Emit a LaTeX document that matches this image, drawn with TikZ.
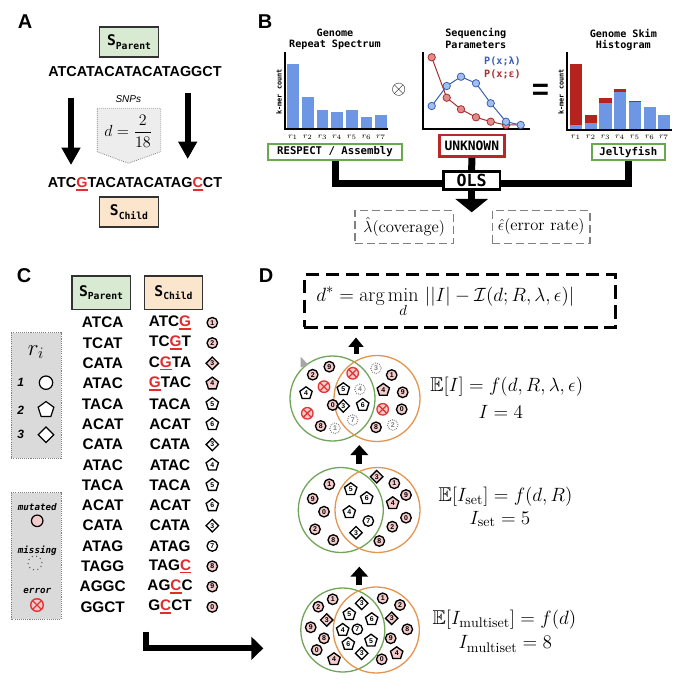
\documentclass[tikz,border=0pt]{standalone}
\usepackage{amsmath,amssymb}
\usepackage{fontspec}
\usetikzlibrary{arrows.meta,shapes.geometric,calc}
\newfontfamily\sansf{Liberation Sans}
\newfontfamily\monof{DejaVu Sans Mono}
\newdimen\px \px=0.75pt
\definecolor{boxgreen}{RGB}{217,234,211}
\definecolor{boxpeach}{RGB}{252,229,205}
\definecolor{bord}{RGB}{50,50,50}
\definecolor{barblue}{RGB}{109,150,228}
\definecolor{barred}{RGB}{180,35,30}
\definecolor{lineblue}{RGB}{60,95,180}
\definecolor{linered}{RGB}{170,45,45}
\definecolor{ptblue}{RGB}{160,190,240}
\definecolor{ptred}{RGB}{225,140,140}
\definecolor{okgreen}{RGB}{106,168,79}
\definecolor{unkred}{RGB}{185,40,40}
\definecolor{mutred}{RGB}{225,45,45}
\definecolor{pinkfill}{RGB}{244,204,204}
\definecolor{leggray}{RGB}{218,218,218}
\definecolor{venngreen}{RGB}{112,165,90}
\definecolor{vennorange}{RGB}{228,150,80}
\definecolor{errred}{RGB}{225,55,55}
\newcommand\mut[1]{\textcolor{mutred}{\setbox0\hbox{#1}\rlap{\rule[-2.4pt]{\wd0}{1.2pt}}\box0}}
\newcommand\Slab[1]{{\monof\bfseries\fontsize{11}{11}\selectfont S\raisebox{-2.6pt}{\fontsize{7.3}{7.3}\selectfont #1}}}
\newcommand\tokfont{\sansf\bfseries\fontsize{5.2}{5.5}\selectfont}
\newcommand\tok[4]{\node[#2] (#1) at (#3) {#4};}
\newcommand\crow[6]{%
  \node[cseq] (cp#1) at (102.7,#2) {#3};
  \node[cseq] (cc#1) at (170,#2) {#4};
  \node[#5] (cs#1) at (212.3,#2) {#6};}
\begin{document}
\begin{tikzpicture}[x=0.75pt,y=-0.75pt,
  lbl/.style={font=\sansf\bfseries\fontsize{15}{15}\selectfont, inner sep=0pt},
  sbox/.style={draw=bord, line width=1.3\px, minimum width=59\px, minimum height=30\px, inner sep=0pt},
  seqA/.style={font=\sansf\bfseries\fontsize{10.8}{12}\selectfont, inner sep=0pt},
  cseq/.style={font=\sansf\bfseries\fontsize{11.5}{12}\selectfont, inner sep=0pt},
  ttl/.style={font=\monof\bfseries\fontsize{7.6}{8}\selectfont, inner sep=0pt},
  tick/.style={font=\fontsize{6}{6}\selectfont, inner sep=0pt},
  kmer/.style={font=\monof\bfseries\fontsize{5.2}{6}\selectfont, rotate=90, inner sep=0pt},
  gbox/.style={draw=okgreen, line width=2\px, fill=white, minimum height=16\px, inner sep=0pt, font=\monof\bfseries\fontsize{8}{8}\selectfont},
  conn/.style={line width=7\px, line join=miter},
  bigdown/.style={line width=6\px, -{Triangle[width=13.5pt,length=13pt]}},
  uparrow/.style={line width=5\px, -{Triangle[width=13pt,length=7.5pt]}},
  dbox/.style={draw=gray, dash pattern=on 6pt off 3pt, line width=1.2\px, font=\fontsize{12.5}{15}\selectfont, inner sep=0pt},
  mth/.style={font=\fontsize{15}{17}\selectfont, inner sep=0pt, anchor=west},
  legbox/.style={fill=leggray, draw=gray, dash pattern=on 0.8pt off 0.8pt, line width=0.75pt},
  tk/.style={draw=black, line width=1pt, inner sep=0pt, font=\tokfont},
  tc/.style={tk, circle, minimum size=10.5\px},
  tp/.style={tk, regular polygon, regular polygon sides=5, minimum size=13\px},
  td/.style={tk, diamond, minimum size=13\px},
  mu/.style={fill=pinkfill},
  wh/.style={fill=white},
  tm/.style={circle, draw=gray, dash pattern=on 0.6pt off 0.9pt, line width=0.8pt, minimum size=10.5\px, inner sep=0pt, font=\tokfont, text=gray, fill=white},
  te/.style={circle, draw=errred, line width=1pt, fill=pinkfill, minimum size=11.5\px, inner sep=0pt,
     path picture={\draw[errred, line width=1pt] (path picture bounding box.north west) -- (path picture bounding box.south east) (path picture bounding box.north east) -- (path picture bounding box.south west);}},
]
\useasboundingbox (0,0) rectangle (679,680);
\fill[white] (0,0) rectangle (679,680);

% ================= Panel A =================
\node[lbl] (labA) at (25,22) {A};
\node[sbox, fill=boxgreen] (spA) at (129,42) {\Slab{Parent}};
\node[seqA] (seqP) at (135,72) {ATCATACATACATAGGCT};
\node[font=\sansf\itshape\fontsize{7.5}{8}\selectfont, inner sep=0pt] (snp) at (128.3,99) {SNPs};
\draw[draw=gray, fill=black!7, dash pattern=on 0.6pt off 0.9pt, line width=0.6pt]
  (97.3,108.3) -- (160.7,108.3) -- (160.7,151.7) -- (128.3,163.3) -- (97.3,151.7) -- cycle;
\node[font=\fontsize{12}{14}\selectfont, inner sep=0pt] (dA) at (128.3,131.7) {$d=\dfrac{2}{18}$};
\coordinate (aLs) at (71,98); \coordinate (aLe) at (71,165);
\coordinate (aRs) at (187.7,93); \coordinate (aRe) at (187.7,159);
\draw[bigdown] (aLs) -- (aLe);
\draw[bigdown] (aRs) -- (aRe);
\node[seqA] (seqC) at (135,184) {ATC\mut{G}TACATACATAG\mut{C}CT};
\node[sbox, fill=boxpeach] (scA) at (129,212) {\Slab{Child}};

% ================= Panel B =================
\node[lbl] (labB) at (265,22) {B};
\node[ttl] (t1a) at (335,33.3) {Genome};
\node[ttl] (t1b) at (335,45) {Repeat Spectrum};
\node[ttl] (t2a) at (475.8,33.3) {Sequencing};
\node[ttl] (t2b) at (475.8,45) {Parameters};
\node[ttl] (t3a) at (623.3,33.3) {Genome Skim};
\node[ttl] (t3b) at (623.3,45) {Histogram};

% chart 1
\foreach \a/\b/\t in {287.3/299/64, 301.7/313.7/96.7, 316.7/328.3/110, 331/343/112.3, 346/357.7/109.7, 360.7/372.3/116.7, 375.3/387/114.7}
  \fill[barblue] (\a,\t) rectangle (\b,129.3);
\draw[line width=2\px] (285,51.7) -- (285,129.3) -- (388.3,129.3);
\foreach \x [count=\i] in {293,307.7,322.5,337,351.8,366.5,381}
  \node[tick] (ra\i) at (\x,137.5) {$r_{\i}$};
\node[kmer] (k1) at (279,92) {k-mer count};

\node[font=\fontsize{14.5}{14.5}\selectfont, inner sep=0pt] (ot) at (398.8,90) {$\otimes$};

% chart 2
\draw[line width=2\px] (423.3,51.7) -- (423.3,129.3) -- (530,129.3);
\draw[linered, line width=1\px] plot coordinates {(431.7,57.3) (446.7,97.7) (461,109.3) (476,117.3) (490.7,121.7) (506,125) (520.7,125)};
\draw[lineblue, line width=1\px] plot coordinates {(431.7,106) (446.7,86) (461,76.7) (476,83.3) (490.7,103.3) (506,121.7) (520.7,125)};
\foreach \x/\y in {431.7/57.3, 446.7/97.7, 461/109.3, 476/117.3, 490.7/121.7, 506/125}
  \filldraw[fill=ptred, draw=linered, line width=0.8\px] (\x,\y) circle[radius=3.7];
\foreach \x/\y in {431.7/106, 446.7/86, 461/76.7, 476/83.3, 490.7/103.3, 506/121.7, 520.7/125}
  \filldraw[fill=ptblue, draw=lineblue, line width=0.8\px] (\x,\y) circle[radius=3.7];
\node[font=\monof\bfseries\fontsize{7.6}{8}\selectfont, text=lineblue, inner sep=0pt] (pl) at (502.5,61.7) {P(x;λ)};
\node[font=\monof\bfseries\fontsize{7.6}{8}\selectfont, text=linered, inner sep=0pt] (pe) at (502.5,74) {P(x;ε)};

\node[font=\sansf\bfseries\fontsize{22}{22}\selectfont, inner sep=0pt] (eq) at (540.5,92) {=};

% chart 3
\foreach \a/\b/\bt/\rt in {570/581.7/125/64, 585/596.7/122.7/115, 599.3/611.7/103.3/98.3, 614/626.3/92.3/89.3, 628.7/641/102/101, 643.7/655.7/107.3/107.3, 658.3/670/115/115}
  {\fill[barred] (\a,\rt) rectangle (\b,\bt);
   \fill[barblue] (\a,\bt) rectangle (\b,130);}
\draw[line width=2\px] (566.7,51.7) -- (566.7,130) -- (671.7,130);
\foreach \x [count=\i] in {575.8,590.8,605.5,620,634.8,649.7,664}
  \node[tick] (rb\i) at (\x,137.5) {$r_{\i}$};
\node[kmer] (k3) at (561,92) {k-mer count};

% boxes and OLS
\node[gbox, minimum width=134.6\px] (resp) at (335,152) {RESPECT / Assembly};
\node[draw=unkred, line width=2.5\px, fill=white, minimum width=65\px, minimum height=21.7\px, inner sep=0pt, font=\monof\bfseries\fontsize{9.7}{10}\selectfont] (unk) at (471.8,145.8) {UNKNOWN};
\node[gbox, minimum width=73.3\px] (jelly) at (628.3,152) {Jellyfish};
\node[draw=black, line width=2.5\px, fill=white, minimum width=56.7\px, minimum height=17.6\px, inner sep=0pt, font=\monof\bfseries\fontsize{12.5}{13}\selectfont] (ols) at (471.7,180.5) {OLS};
\coordinate (olsL) at ($(ols.west)+(0,3.5)$);
\coordinate (olsR) at ($(ols.east)+(0,3.5)$);
\draw[conn] (resp.south) |- (olsL);
\draw[conn] (jelly.south) |- (olsR);
\draw[conn] (unk.south) -- (ols.north);
\coordinate (olsOut) at (471.7,212.3);
\draw[line width=7\px, -{Triangle[width=24pt,length=10pt]}] (ols.south) -- (olsOut);
\node[dbox, minimum width=98.3\px, minimum height=32.6\px] (lam) at (404.2,227) {$\hat\lambda(\text{coverage})$};
\node[dbox, minimum width=97.7\px, minimum height=32.6\px] (eps) at (541.2,227) {$\hat\epsilon(\text{error rate})$};

% ================= Panel C =================
\node[lbl] (labC) at (24,276) {C};
\node[sbox, fill=boxgreen, minimum width=58.3\px, minimum height=33.3\px] (spC) at (101,292.7) {\Slab{Parent}};
\node[sbox, fill=boxpeach, minimum width=58.3\px, minimum height=33.3\px] (scC) at (173.5,292.7) {\Slab{Child}};
\crow{0}{322.7}{ATCA}{ATC\mut{G}}{tc,mu}{1}
\crow{1}{343.0}{TCAT}{TC\mut{G}T}{tc,mu}{2}
\crow{2}{363.3}{CATA}{C\mut{G}TA}{td,mu}{3}
\crow{3}{383.6}{ATAC}{\mut{G}TAC}{tp,mu}{4}
\crow{4}{403.9}{TACA}{TACA}{tp,wh}{5}
\crow{5}{424.2}{ACAT}{ACAT}{tp,wh}{6}
\crow{6}{444.5}{CATA}{CATA}{td,wh}{3}
\crow{7}{464.8}{ATAC}{ATAC}{tp,wh}{4}
\crow{8}{485.1}{TACA}{TACA}{tp,wh}{5}
\crow{9}{505.4}{ACAT}{ACAT}{tp,wh}{6}
\crow{10}{525.7}{CATA}{CATA}{td,wh}{3}
\crow{11}{546.0}{ATAG}{ATAG}{tc,wh}{7}
\crow{12}{566.3}{TAGG}{TAG\mut{C}}{tc,mu}{8}
\crow{13}{586.6}{AGGC}{AG\mut{C}C}{tc,mu}{9}
\crow{14}{606.9}{GGCT}{G\mut{C}CT}{tc,mu}{0}

% legends
\draw[legbox] (11,332.7) rectangle (61,458.3);
\node[font=\fontsize{17}{18}\selectfont, inner sep=0pt] (ri) at (36,352) {$r_i$};
\node[font=\sansf\bfseries\itshape\fontsize{9}{9}\selectfont, inner sep=0pt] (l1) at (20.7,382.7) {1};
\node[font=\sansf\bfseries\itshape\fontsize{9}{9}\selectfont, inner sep=0pt] (l2) at (20.7,410) {2};
\node[font=\sansf\bfseries\itshape\fontsize{9}{9}\selectfont, inner sep=0pt] (l3) at (20.7,434.5) {3};
\node[circle, draw, fill=white, line width=1.2\px, minimum size=13.4\px, inner sep=0pt] (s1) at (46,382.7) {};
\node[regular polygon, regular polygon sides=5, draw, fill=white, line width=1.2\px, minimum size=16.5\px, inner sep=0pt] (s2) at (46,409.8) {};
\node[diamond, draw, fill=white, line width=1.2\px, minimum size=16\px, inner sep=0pt] (s3) at (46,434.8) {};

\draw[legbox] (11,492.7) rectangle (61,619.3);
\node[font=\monof\bfseries\itshape\fontsize{6.9}{7}\selectfont, inner sep=0pt] (lm) at (37.3,506.7) {mutated};
\node[circle, draw, fill=pinkfill, line width=1.2\px, minimum size=11.5\px, inner sep=0pt] (smu) at (37.2,520.8) {};
\node[font=\monof\bfseries\itshape\fontsize{6.9}{7}\selectfont, inner sep=0pt] (lmi) at (37.3,550.7) {missing};
\node[circle, draw=black!70, dash pattern=on 0.7pt off 2.6pt, line width=0.8pt, minimum size=14\px, inner sep=0pt] (smi) at (35,563) {};
\node[font=\monof\bfseries\itshape\fontsize{6.9}{7}\selectfont, inner sep=0pt] (le) at (37.3,590.7) {error};
\node[te, minimum size=12.6\px, line width=1.1pt] (ser) at (37,605) {};

\coordinate (cArS) at (145.7,631.7);
\coordinate (cArE) at (263.3,648.3);
\draw[line width=6\px, line join=miter, -{Triangle[width=17pt,length=9pt]}] (cArS) |- (cArE);

% ================= Panel D =================
\node[lbl] (labD) at (266,276) {D};
\node[draw, line width=2.7\px, dash pattern=on 10pt off 5pt, minimum width=311.4\px, minimum height=52.3\px, inner sep=0pt] (fbox) at (460,301) {};
\node[mth] (form) at (316,302) {$\displaystyle d^{*}=\arg\min_{d}\,||I|-\mathcal{I}(d;R,\lambda,\epsilon)|$};

\coordinate (u1s) at (356,354); \coordinate (u1e) at (356,337.5);
\coordinate (u2s) at (359.3,464); \coordinate (u2e) at (359.3,445);
\coordinate (u3s) at (359.3,585); \coordinate (u3e) at (359.3,566.7);
\draw[uparrow, -{Triangle[width=11pt,length=7pt]}] (u1s) -- (u1e);
\draw[uparrow, line width=6\px] (u2s) -- (u2e);
\draw[uparrow, line width=6\px] (u3s) -- (u3e);

% Venn 1
\draw[venngreen, line width=1.3\px] (332.5,398.5) circle[radius=42.5];
\draw[vennorange, line width=1.3\px] (377,398.5) circle[radius=43];
\fill[gray!70] (300.5,356.5) -- (300.5,367.5) -- (308.5,365) -- cycle;
\tok{a1}{tc,mu}{312.7,374.7}{2}
\tok{a2}{tc,mu}{329.3,366.7}{9}
\tok{a3}{te}{324,386.7}{}
\tok{a4}{tp,wh}{306,393.3}{4}
\tok{a5}{tc,mu}{332.7,405}{0}
\tok{a6}{te}{307.3,413.3}{}
\tok{a7}{tc,mu}{320.7,426}{8}
\tok{a8}{tm}{335,428.3}{1}
\tok{a9}{te}{352.7,373.3}{}
\tok{a10}{tp,wh}{343.3,389.3}{5}
\tok{a11}{tm}{360,389.3}{4}
\tok{a12}{td,wh}{343.3,406}{3}
\tok{a13}{tp,wh}{362.7,405}{6}
\tok{a14}{tm}{352.7,420}{7}
\tok{a15}{tm}{376,368.3}{3}
\tok{a16}{tc,mu}{391.7,375}{1}
\tok{a17}{tp,mu}{383.3,390}{4}
\tok{a18}{tc,mu}{402.7,392.3}{9}
\tok{a19}{te}{382.7,409.3}{}
\tok{a20}{tc,mu}{401.7,409.3}{0}
\tok{a21}{tc,mu}{376,427.3}{8}
\tok{a22}{tm}{392.7,425}{2}
\node[mth] (e1) at (430,386.7) {$\mathbb{E}[I]=f(d,R,\lambda,\epsilon)$};
\node[mth] (i1) at (478.3,412.3) {$I=4$};

% Venn 2
\draw[venngreen, line width=1.3\px] (340.8,510) circle[radius=42.5];
\draw[vennorange, line width=1.3\px] (377.5,510) circle[radius=42.5];
\tok{b1}{tc,mu}{329.3,484.3}{1}
\tok{b2}{tc,mu}{312.7,498.7}{9}
\tok{b3}{tc,mu}{324,511.7}{0}
\tok{b4}{tc,mu}{315,529.3}{2}
\tok{b5}{tc,mu}{333.3,540}{8}
\tok{b6}{tp,wh}{350.7,489.3}{5}
\tok{b7}{tp,wh}{366.7,498.3}{6}
\tok{b8}{tp,wh}{349.3,512.3}{4}
\tok{b9}{tc,wh}{368.3,521}{7}
\tok{b10}{td,wh}{356,532.7}{3}
\tok{b11}{td,mu}{376.7,476.7}{3}
\tok{b12}{tc,mu}{394.3,483.3}{1}
\tok{b13}{tc,mu}{406,495}{9}
\tok{b14}{tp,mu}{392.7,503.3}{4}
\tok{b15}{tc,mu}{406,517.7}{0}
\tok{b16}{tc,mu}{392.3,526.7}{2}
\tok{b17}{tc,mu}{379.3,541}{8}
\node[mth] (e2) at (438.3,496.7) {$\mathbb{E}[I_{\mathrm{set}}]=f(d,R)$};
\node[mth] (i2) at (469.3,519) {$I_{\mathrm{set}}=5$};

% Venn 3
\draw[venngreen, line width=1.3\px] (342.8,630) circle[radius=42];
\draw[vennorange, line width=1.3\px] (376.3,630) circle[radius=43];
\tok{c1}{tc,mu}{332.7,599.3}{1}
\tok{c2}{tc,mu}{318.3,606.7}{2}
\tok{c3}{td,mu}{326.7,620}{3}
\tok{c4}{tc,mu}{310.7,627.3}{9}
\tok{c5}{tc,mu}{324,638.3}{8}
\tok{c6}{tc,mu}{316.7,650}{0}
\tok{c7}{tp,mu}{334,659.3}{4}
\tok{c8}{td,wh}{361.7,603.3}{3}
\tok{c9}{tp,wh}{349.3,614.3}{5}
\tok{c10}{tp,wh}{371.7,619.3}{6}
\tok{c11}{tp,wh}{342.7,630}{4}
\tok{c12}{tc,wh}{357.3,629.3}{7}
\tok{c13}{tp,wh}{348.3,644}{6}
\tok{c14}{tp,wh}{371,640.7}{5}
\tok{c15}{td,wh}{361.7,653.3}{3}
\tok{c16}{tc,mu}{382.7,598.3}{1}
\tok{c17}{tc,mu}{400,605}{2}
\tok{c18}{td,mu}{391.7,618.3}{3}
\tok{c19}{tc,mu}{407.3,629.3}{8}
\tok{c20}{tc,mu}{390.7,638.3}{9}
\tok{c21}{tp,mu}{396.7,653.3}{4}
\tok{c22}{tc,mu}{381.7,659.3}{0}
\node[mth] (e3) at (432.3,620) {$\mathbb{E}[I_{\mathrm{multiset}}]=f(d)$};
\node[mth] (i3) at (458.3,644) {$I_{\mathrm{multiset}}=8$};
\end{tikzpicture}
\end{document}
